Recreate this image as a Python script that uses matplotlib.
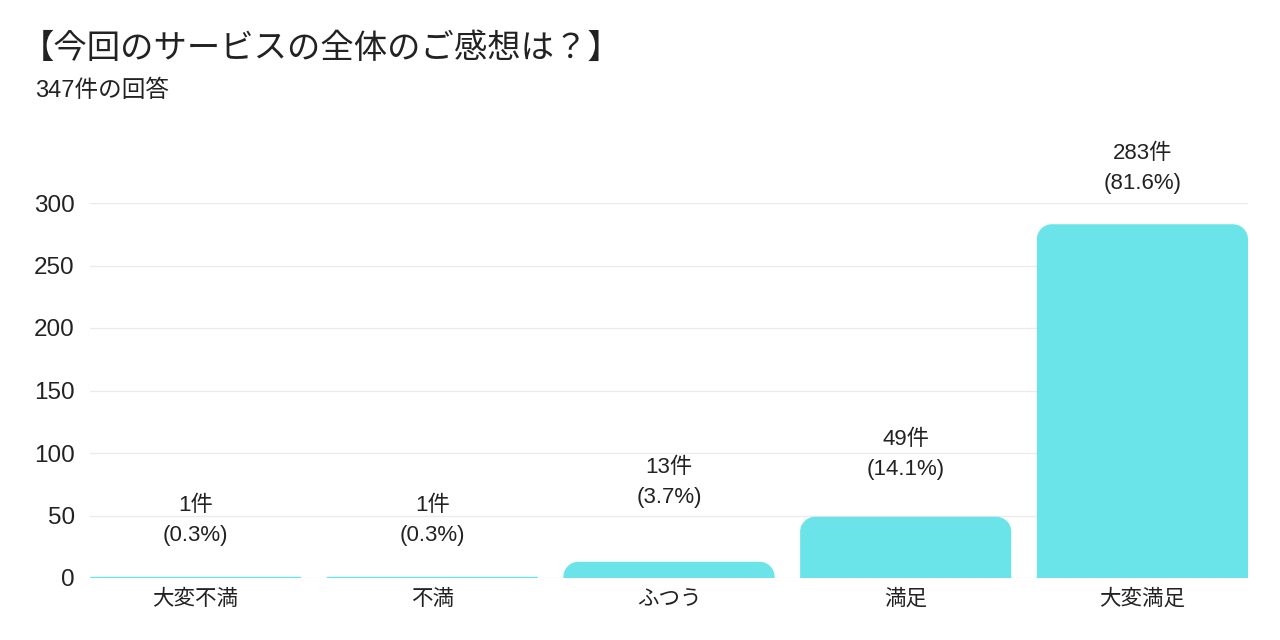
import numpy as np
import matplotlib.pyplot as plt
from matplotlib.path import Path
from matplotlib.patches import PathPatch

plt.rcParams['font.family'] = ['Liberation Sans', 'Noto Sans CJK JP']

categories = ["大変不満", "不満", "ふつう", "満足", "大変満足"]
counts = [1, 1, 13, 49, 283]
percents = [0.3, 0.3, 3.7, 14.1, 81.6]
total = 347

# how far (px) the percent line sits above each bar top
label_lift = [41, 41, 64, 47, 41]

bar_color = "#6ae4e8"
text_color = "#222222"
width = 0.892

fig = plt.figure(figsize=(12.8, 6.4), dpi=100)
ax = fig.add_axes([90 / 1280, 1 - 578 / 640, 1158 / 1280, 375 / 640])

x = np.arange(len(categories))
ax.set_xlim(-width / 2, len(categories) - 1 + width / 2)
ax.set_ylim(0, 300)

# rounded top corners, radius ~15px converted into data units
px_x = 1158 / (len(categories) - 1 + width)
px_y = 375 / 300
r_px = 15
k = 0.5523


def rounded_bar(xc, h):
    x0, x1 = xc - width / 2, xc + width / 2
    rx = r_px / px_x
    ry = min(r_px / px_y, h)
    rx = rx * ry / (r_px / px_y)
    verts = [(x0, 0), (x0, h - ry),
             (x0, h - ry + k * ry), (x0 + rx - k * rx, h), (x0 + rx, h),
             (x1 - rx, h),
             (x1 - rx + k * rx, h), (x1, h - ry + k * ry), (x1, h - ry),
             (x1, 0), (x0, 0)]
    codes = [Path.MOVETO, Path.LINETO,
             Path.CURVE4, Path.CURVE4, Path.CURVE4,
             Path.LINETO,
             Path.CURVE4, Path.CURVE4, Path.CURVE4,
             Path.LINETO, Path.CLOSEPOLY]
    return PathPatch(Path(verts, codes), facecolor=bar_color, edgecolor="none", zorder=3)


for xi, c, p, lift in zip(x, counts, percents, label_lift):
    ax.add_patch(rounded_bar(xi, c))
    ax.annotate(f"({p}%)", (xi, c), xytext=(0, lift), textcoords="offset pixels",
                ha="center", va="center", fontsize=16, color=text_color)
    ax.annotate(f"{c}件", (xi, c), xytext=(0, lift + 30), textcoords="offset pixels",
                ha="center", va="center", fontsize=16, color=text_color)

ax.set_yticks([0, 50, 100, 150, 200, 250, 300])
ax.set_xticks(x)
ax.set_xticklabels(categories)
ax.tick_params(axis="both", length=0, colors=text_color)
ax.tick_params(axis="y", pad=11, labelsize=17.5)
ax.tick_params(axis="x", pad=8, labelsize=15.5)
ax.grid(axis="y", color="#ebebeb", linewidth=1, zorder=0)
ax.set_axisbelow(True)
for s in ax.spines.values():
    s.set_visible(False)

fig.text(21 / 1280, 1 - 49 / 640, "【今回のサービスの全体のご感想は？】", fontsize=24,
         color=text_color, va="center", ha="left")
fig.text(35 / 1280, 1 - 91 / 640, f"{total}件の回答", fontsize=17,
         color=text_color, va="center", ha="left")

fig.savefig("out.png", dpi=100, facecolor="white")
